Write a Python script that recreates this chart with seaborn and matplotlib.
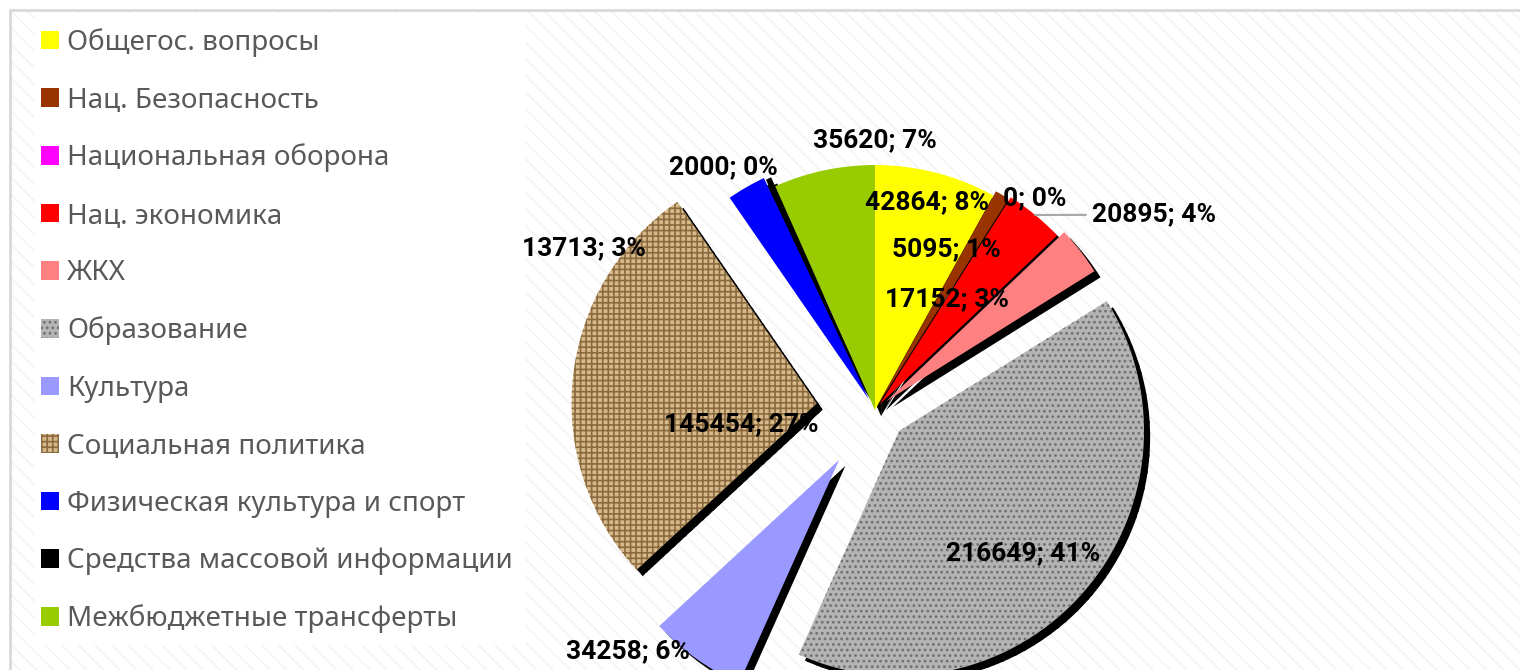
import matplotlib
matplotlib.use('Agg')
import numpy as np
import matplotlib.pyplot as plt
import seaborn as sns
from matplotlib.patches import Rectangle

categories = ['Общегос. вопросы', 'Нац. Безопасность', 'Национальная оборона',
              'Нац. экономика', 'ЖКХ', 'Образование', 'Культура',
              'Социальная политика', 'Физическая культура и спорт',
              'Средства массовой информации', 'Межбюджетные трансферты']
values = [42864, 5095, 0, 20895, 17152, 216649, 34258, 145454, 13713, 2000, 35620]

# styling (kept apart from the data)
colors = ['#FFFF00', '#993300', '#FF00FF', '#FF0000', '#FF8080', '#b4b4b4',
          '#9999FF', '#d6b98a', '#0000FF', '#000000', '#99CC00']
hatches = ['', '', '', '', '', '...', '', '+++', '', '', '']
hatch_colors = [None, None, None, None, None, '#707070', None, '#8a6a3e', None, None, None]
explode = [0.0, 0.02, 0.02, 0.03, 0.06, 0.13, 0.25, 0.24, 0.05, 0.04, 0.0]
# label placement: (radius, angle in degrees) around the pie centre
label_pos = [(0.875, 76), (0.72, 66), (1.08, 53), (1.39, 35), (0.54, 57),
             (0.84, -44), (1.41, -135.6), (0.55, 186), (1.36, 151),
             (1.17, 122), (1.10, 90)]

sns.set_theme(style='white')
plt.rcParams['font.family'] = ['Noto Sans', 'DejaVu Sans']
plt.rcParams['hatch.linewidth'] = 1.2

W, H = 1520, 670
fig = plt.figure(figsize=(W / 100, H / 100), dpi=100)
fig.patch.set_facecolor('white')

# striped chart background and border
fig.add_artist(Rectangle((10 / W, -0.1), 1.1, (H - 10) / H + 0.1, transform=fig.transFigure,
                         facecolor='white', edgecolor='#f3f3f3', lw=0, hatch='\\\\', zorder=-6))
fig.add_artist(Rectangle((10 / W, -0.1), 1.1, (H - 10) / H + 0.1, transform=fig.transFigure,
                         facecolor='none', edgecolor='#d9d9d9', lw=2, zorder=-5))
fig.add_artist(Rectangle((35 / W, (H - 645) / H), 490 / W, 632 / H, transform=fig.transFigure,
                         facecolor='white', edgecolor='none', zorder=-4))

# pie axes: centre at (875, 410) px, radius 245 px
S = 600
cx, cy, R = 875, 410, 245
ax = fig.add_axes([(cx - S / 2) / W, (H - cy - S / 2) / H, S / W, S / H])
ax.patch.set_visible(False)

palette = sns.color_palette(colors)
wedges, _ = ax.pie(values, colors=palette, startangle=90, counterclock=False,
                   explode=explode, hatch=hatches, radius=1,
                   wedgeprops={'linewidth': 0},
                   shadow={'ox': 0.018, 'oy': -0.018, 'shade': 0.0, 'alpha': 1.0,
                           'facecolor': 'black', 'edgecolor': 'black'})
for w, hc in zip(wedges, hatch_colors):
    if hc is not None:
        w.set_edgecolor(hc)
    else:
        w.set_edgecolor('none')

L = S / (2 * R)
ax.set_xlim(-L, L)
ax.set_ylim(-L, L)
ax.set_aspect('equal')
ax.axis('off')

total = sum(values)
label_font = dict(fontsize=19, fontweight='bold', color='black', family=['Roboto', 'DejaVu Sans'])
for i, (v, (r, a)) in enumerate(zip(values, label_pos)):
    txt = f'{v}; {round(100 * v / total)}%'
    x, y = r * np.cos(np.radians(a)), r * np.sin(np.radians(a))
    if categories[i] == 'Нац. экономика':
        w = wedges[i]
        mid = np.radians((w.theta1 + w.theta2) / 2)
        ex, ey = w.center[0] + w.r * np.cos(mid), w.center[1] + w.r * np.sin(mid)
        ax.annotate(txt, xy=(ex, ey), xytext=(x, y), ha='center', va='center',
                    arrowprops=dict(arrowstyle='-', color='#a6a6a6', lw=1.5,
                                    shrinkA=2, shrinkB=0), **label_font)
    else:
        ax.text(x, y, txt, ha='center', va='center', **label_font)

fig.legend(wedges, categories, loc='upper left', bbox_to_anchor=(41 / W, (H - 28) / H),
           frameon=False, fontsize=20, labelcolor='#595959',
           handlelength=0.65, handleheight=0.65, handletextpad=0.3,
           labelspacing=1.06, borderpad=0, borderaxespad=0)

fig.savefig('out.png', dpi=100)
